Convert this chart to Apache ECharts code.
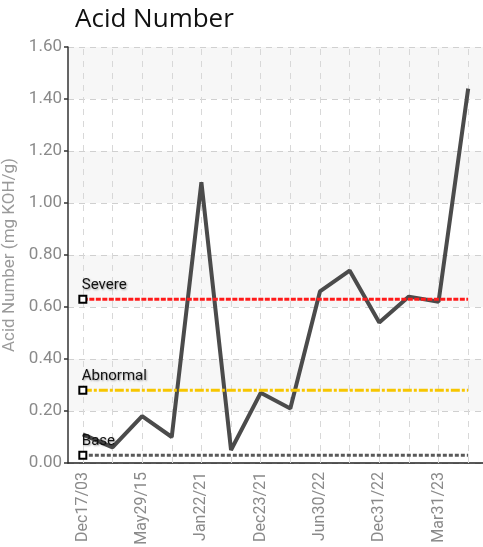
<!DOCTYPE html>
<html>
<head>
<meta charset="utf-8">
<script src="https://cdn.jsdelivr.net/npm/echarts@6/dist/echarts.min.js"></script>
<style>
    html, body { margin: 0; padding: 0; background: #fff; }
    #chart { width: 483px; height: 547px; }
</style>
</head>
<body>
<div id="chart"></div>
<script>
const categories = ['Dec17/03', 'Mar15/10', 'May29/15', 'Jun10/20', 'Jan22/21', 'Jun30/21', 'Dec23/21',
    'Mar31/22', 'Jun30/22', 'Sep30/22', 'Dec31/22', 'Feb28/23', 'Mar31/23', 'Jun30/23']
const acidValues = [0.11, 0.06, 0.18, 0.10, 1.08, 0.05, 0.27, 0.21, 0.66, 0.74, 0.54, 0.64, 0.62, 1.44]
const yTicks = [0, 0.2, 0.4, 0.6, 0.8, 1.0, 1.2, 1.4, 1.6]

// limit lines: name, value, colour, dash
const limitNames = ['Severe', 'Abnormal', 'Base']
const limitValues = [0.63, 0.28, 0.03]
const limitColors = ['#ff1a1a', '#f7c600', '#5a5a5a']
const limitDashes = [[5, 1.5], [9, 2, 3, 2], [4, 2]]

const narrow = "Roboto, sans-serif"
const last = categories.length - 1

const limitSeries = limitNames.map((name, i) => ({
    name: name,
    type: 'line',
    z: 6,
    silent: true,
    symbol: 'emptyRect',
    symbolSize: 7,
    itemStyle: { color: '#000', borderWidth: 1.5 },
    lineStyle: { color: limitColors[i], width: 3, type: limitDashes[i] },
    data: [
        {
            value: [categories[0], limitValues[i]],
            label: {
                show: true,
                formatter: name,
                position: 'top',
                align: 'left',
                offset: [-1, 3],
                color: '#111',
                fontFamily: narrow,
                fontSize: 15,
                textShadowColor: 'rgba(0,0,0,0.35)',
                textShadowBlur: 2,
                textShadowOffsetX: 1,
                textShadowOffsetY: 1
            }
        },
        { value: [categories[last], limitValues[i]], symbol: 'none' }
    ]
}))

const chart = echarts.init(document.getElementById('chart'))
chart.setOption({
    animation: false,
    title: {
        text: 'Acid Number',
        left: 70,
        top: 2,
        textStyle: { fontFamily: "'Open Sans', sans-serif", fontSize: 26, fontWeight: 'normal', color: '#111' }
    },
    grid: { left: 68, right: 0, top: 47, bottom: 84, outerBoundsMode: 'none', containLabel: false },
    xAxis: {
        type: 'category',
        boundaryGap: true,
        data: categories,
        axisLine: { lineStyle: { color: '#222', width: 1.5 } },
        axisTick: { alignWithLabel: true, interval: 1, length: 4, lineStyle: { color: '#222', width: 1.5 } },
        axisLabel: { interval: 1, rotate: 90, color: '#8a8a8a', fontFamily: narrow, fontSize: 16, margin: 9 },
        splitLine: { show: false }
    },
    yAxis: {
        type: 'value',
        min: yTicks[0],
        max: yTicks[yTicks.length - 1],
        interval: 0.2,
        name: 'Acid Number (mg KOH/g)',
        nameLocation: 'middle',
        nameGap: 46,
        nameTextStyle: { color: '#9a9a9a', fontFamily: narrow, fontSize: 17 },
        axisLine: { show: true, lineStyle: { color: '#333', width: 1.5 } },
        axisTick: { show: true, length: 4, lineStyle: { color: '#333', width: 1.5 } },
        axisLabel: { color: '#8a8a8a', fontFamily: narrow, fontSize: 17, margin: 6, formatter: v => v.toFixed(2) },
        splitLine: { lineStyle: { color: '#d0d0d0', type: [6, 5] } },
        splitArea: { show: true, areaStyle: { color: ['#ffffff', '#f7f7f7'] } }
    },
    series: [
        {
            // vertical dashed grid at each category centre
            type: 'line',
            z: 1,
            silent: true,
            data: [],
            markLine: {
                silent: true,
                symbol: 'none',
                label: { show: false },
                lineStyle: { color: '#d8d8d8', width: 1, type: [6, 6] },
                data: categories.map(c => ({ xAxis: c }))
            }
        },
        {
            name: 'Acid Number',
            type: 'line',
            z: 5,
            symbol: 'none',
            data: acidValues,
            lineStyle: { color: '#4b4b4b', width: 4 }
        },
        ...limitSeries
    ]
})
</script>
</body>
</html>
